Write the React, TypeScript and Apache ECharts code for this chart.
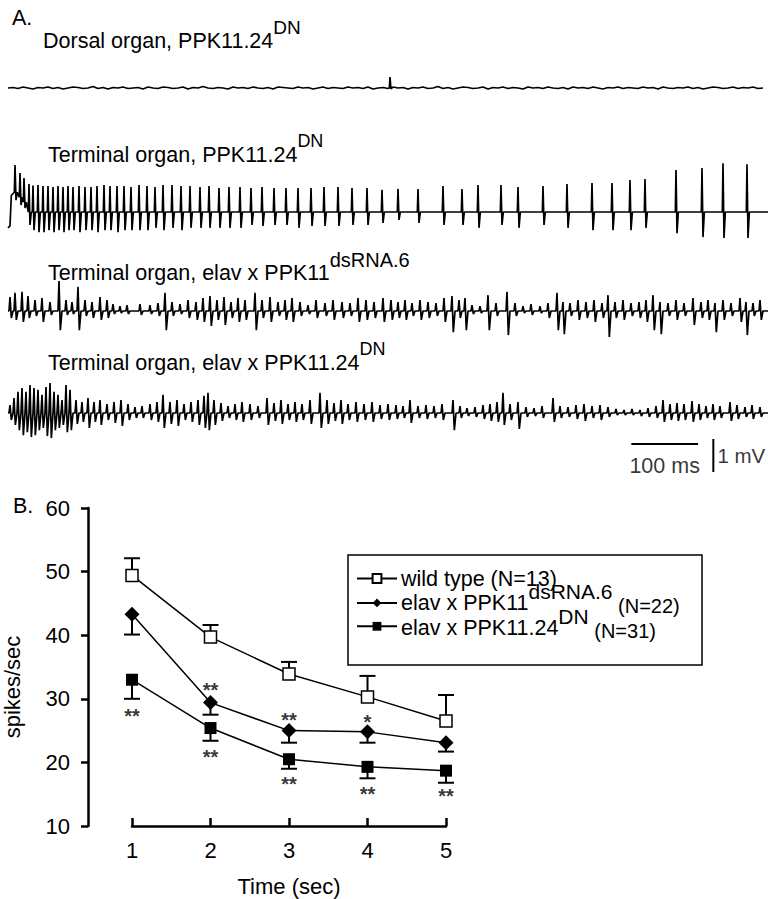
import React, { useEffect, useRef } from 'react';
import * as echarts from 'echarts';

const FONT = '"Liberation Sans", Arial, Helvetica, sans-serif';

// ---------- Panel B data ----------
const timeSec = [1, 2, 3, 4, 5];
const wildMean = [49.4, 39.7, 33.9, 30.3, 26.5];
const wildErr = [2.7, 1.9, 1.9, 3.3, 4.1];
const dsMean = [43.3, 29.4, 25.0, 24.8, 23.1];
const dsErr = [3.2, 1.9, 1.9, 1.7, 1.4];
const dnMean = [33.0, 25.4, 20.5, 19.3, 18.7];
const dnErr = [3.0, 2.0, 1.5, 1.8, 1.9];
const starX = [1, 2, 2, 3, 3, 4, 4, 5];
const starY = [28.0, 32.0, 21.5, 27.3, 17.2, 27.0, 15.7, 15.3];
const starText = ['**', '**', '**', '**', '**', '*', '**', '**'];
const yTicks = { min: 10, max: 60, step: 10 };
const legendTexts = [
  '{m|wild type (N=13)}{s| }',
  '{m|elav x PPK11}{s|dsRNA.6}{n| (N=22)}',
  '{m|elav x PPK11.24}{s|DN}{n| (N=31)}',
];

// ---------- Panel A data ----------
// dorsal organ: voltage samples (mV) every 7.5 ms, plus one brief spike [ms, mV]
const dorsalStepMs = 7.5;
const dorsalMv = [
  0.00,0.015,-0.015,0.03,0.00,-0.03,0.015,0.00,0.03,-0.015,0.015,-0.03,0.00,0.03,0.015,-0.015,0.00,0.045,-0.015,0.015,
  -0.03,0.015,0.00,0.03,-0.015,0.00,0.015,-0.03,0.03,0.00,-0.015,0.03,0.015,-0.015,0.00,0.03,-0.03,0.015,0.00,0.045,
  0.00,-0.015,0.015,0.00,-0.03,0.03,0.00,0.015,-0.015,0.03,0.00,-0.015,0.015,-0.03,0.03,0.015,0.00,-0.015,0.03,0.00,
  0.015,-0.03,0.00,0.03,-0.015,0.015,0.00,-0.015,0.03,0.00,0.015,-0.015,0.03,-0.03,0.00,0.015,-0.015,0.03,0.00,0.015,
  -0.03,0.015,0.00,0.03,-0.015,0.00,0.045,-0.015,0.015,-0.03,0.00,0.03,0.015,-0.015,0.00,0.03,-0.03,0.015,0.00,0.03,
  -0.015,0.015,0.00,-0.03,0.03,0.00,0.015,-0.015,0.03,0.00,-0.015,0.015,-0.03,0.03,0.00,0.015,-0.015,0.03,0.00,-0.03,
  0.015,0.00,0.03,-0.015,0.015,0.00,-0.015,0.03,0.00,0.015,-0.03,0.03,0.00,-0.015,0.015,0.00,0.03,-0.015,0.015,-0.03,
  0.00,0.03,0.015,-0.015,0.00,0.03,-0.015,0.015,0.00,0.03,-0.015,0.00
];
const dorsalSpike = [[572, 0.0], [573, 0.33], [574.5, -0.03]];
// terminal organ traces: events [time ms, peak mV, trough mV, base mV]
const toPpkStart = [[0,-0.48],[3,-0.42],[5,0.5]];
const toPpkEvents = [
  [10.5,1.42,0.36,0.6],[18,1.18,0.21,0.45],[24,1.03,0.12,0.3],[31.5,0.85,-0.39],[37.5,0.8,-0.55],
  [45,0.82,-0.61],[52.5,0.79,-0.61],[60,0.79,-0.55],[67.5,0.76,-0.61],[75,0.79,-0.55],[82.5,0.76,-0.61],
  [90,0.79,-0.55],[97.5,0.76,-0.55],[106.5,0.79,-0.61],[115.5,0.76,-0.55],[124.5,0.76,-0.55],
  [133.5,0.79,-0.61],[144,0.82,-0.55],[153,0.79,-0.55],[163.5,0.79,-0.61],[174,0.79,-0.55],
  [184.5,0.76,-0.55],[196.5,0.82,-0.55],[208.5,0.79,-0.55],[220.5,0.76,-0.48],[232.5,0.82,-0.55],
  [246,0.82,-0.48],[259.5,0.79,-0.55],[273,0.79,-0.48],[288,0.76,-0.48],[301.5,0.79,-0.48],
  [316.5,0.73,-0.48],[331.5,0.76,-0.48],[348,0.76,-0.48],[364.5,0.73,-0.39],[381,0.76,-0.42],
  [399,0.73,-0.39],[417,0.73,-0.39],[435,0.73,-0.48],[454.5,0.73,-0.42],[474,0.76,-0.42],
  [495,0.76,-0.42],[516,0.73,-0.39],[538.5,0.73,-0.39],[561,0.67,-0.33],[585,0.7,-0.24],
  [615,0.7,-0.33],[652.5,0.79,-0.39],[681,0.7,-0.39],[705,0.82,-0.48],[739.5,0.82,-0.39],
  [765,0.76,-0.48],[802.5,0.79,-0.39],[838.5,0.85,-0.48],[876,0.88,-0.55],[906,0.88,-0.55],
  [933,0.97,-0.55],[955.5,1.0,-0.48],[1002,1.27,-0.64],[1041,1.33,-0.76],[1072.5,1.48,-0.79],
  [1108.5,1.45,-0.79]
];
const toDsEvents = [
  [3,0.42,-0.21],[10.5,0.55,-0.27],[21,0.58,-0.33],[30,0.45,-0.21],[40.5,0.33,-0.15],[51,0.39,-0.33],
  [63,0.27,-0.12],[76.5,0.91,-0.58],[87,0.33,-0.12],[96,0.27,-0.09],[105,0.73,-0.58],[115.5,0.33,-0.15],
  [126,0.27,-0.21],[138,0.42,-0.27],[148.5,0.33,-0.21],[157.5,0.21,-0.09],[168,0.15,-0.06],
  [178.5,0.18,-0.09],[198,0.21,-0.12],[213,0.18,-0.09],[225,0.24,-0.15],[235.5,0.55,-0.58],
  [246,0.27,-0.15],[258,0.21,-0.09],[270,0.33,-0.21],[282,0.27,-0.27],[292.5,0.39,-0.33],
  [303,0.45,-0.45],[313.5,0.33,-0.27],[324,0.42,-0.42],[334.5,0.27,-0.21],[345,0.39,-0.33],
  [355.5,0.33,-0.27],[370.5,0.55,-0.58],[381,0.33,-0.21],[393,0.42,-0.33],[405,0.27,-0.15],
  [415.5,0.33,-0.27],[426,0.39,-0.33],[438,0.27,-0.15],[450,0.18,-0.09],[462,0.33,-0.21],
  [475.5,0.24,-0.15],[487.5,0.33,-0.27],[501,0.27,-0.21],[513,0.24,-0.15],[525,0.39,-0.33],
  [537,0.33,-0.27],[549,0.27,-0.21],[562.5,0.39,-0.33],[574.5,0.33,-0.27],[585,0.27,-0.21],
  [595.5,0.33,-0.27],[606,0.24,-0.15],[618,0.33,-0.27],[630,0.27,-0.21],[642,0.24,-0.15],
  [654,0.39,-0.33],[666,0.45,-0.64],[676.5,0.33,-0.21],[685.5,0.39,-0.58],[696,0.18,-0.09],
  [708,0.15,-0.06],[720,0.48,-0.58],[732,0.24,-0.15],[748.5,0.58,-0.73],[760.5,0.24,-0.15],
  [772.5,0.15,-0.06],[784.5,0.21,-0.12],[798,0.15,-0.06],[810,0.24,-0.21],[823.5,0.55,-0.58],
  [832.5,0.27,-0.7],[843,0.24,-0.15],[855,0.33,-0.27],[867,0.27,-0.21],[879,0.33,-0.33],
  [891,0.24,-0.21],[900,0.48,-0.79],[910.5,0.27,-0.21],[922.5,0.33,-0.27],[934.5,0.24,-0.15],
  [946.5,0.27,-0.21],[957,0.33,-0.33],[967.5,0.48,-0.58],[978,0.27,-0.7],[990,0.24,-0.15],
  [1002,0.33,-0.27],[1014,0.24,-0.15],[1027.5,0.39,-0.42],[1039.5,0.27,-0.21],[1050,0.33,-0.27],
  [1060.5,0.24,-0.64],[1072.5,0.33,-0.27],[1084.5,0.24,-0.15],[1098,0.39,-0.33],[1107,0.27,-0.73],
  [1117.5,0.24,-0.15],[1128,0.33,-0.27]
];
const toDnEvents = [
  [3,0.24,-0.21],[9,0.45,-0.36],[15,0.64,-0.52],[21,0.76,-0.67],[27,0.64,-0.58],[33,0.85,-0.73],
  [39,0.76,-0.67],[45,0.7,-0.52],[51,0.55,-0.45],[57,0.79,-0.7],[63,0.91,-0.76],[69,0.64,-0.52],
  [75,0.55,-0.45],[81,0.39,-0.36],[87,0.85,-0.58],[93,0.7,-0.52],[102,0.39,-0.33],[111,0.33,-0.27],
  [120,0.45,-0.45],[129,0.33,-0.27],[138,0.39,-0.36],[148.5,0.27,-0.21],[159,0.33,-0.3],
  [169.5,0.39,-0.39],[180,0.27,-0.21],[190.5,0.18,-0.15],[201,0.21,-0.15],[213,0.27,-0.21],
  [223.5,0.33,-0.27],[232.5,0.55,-0.45],[243,0.33,-0.33],[253.5,0.39,-0.39],[264,0.27,-0.21],
  [274.5,0.33,-0.27],[285,0.39,-0.36],[294,0.52,-0.45],[300,0.61,-0.52],[309,0.39,-0.36],
  [319.5,0.3,-0.24],[330,0.21,-0.15],[340.5,0.27,-0.21],[351,0.33,-0.27],[363,0.27,-0.21],
  [375,0.21,-0.15],[388.5,0.45,-0.36],[399,0.3,-0.24],[409.5,0.39,-0.33],[420,0.27,-0.21],
  [430.5,0.33,-0.27],[441,0.27,-0.21],[453,0.39,-0.33],[468,0.61,-0.45],[478.5,0.39,-0.33],
  [489,0.3,-0.24],[499.5,0.39,-0.33],[510,0.27,-0.21],[522,0.33,-0.27],[534,0.27,-0.21],
  [546,0.33,-0.27],[558,0.24,-0.18],[570,0.27,-0.21],[582,0.24,-0.18],[592.5,0.21,-0.15],
  [603,0.39,-0.3],[615,0.21,-0.15],[627,0.24,-0.18],[639,0.21,-0.15],[651,0.27,-0.21],
  [667.5,0.39,-0.52],[678,0.21,-0.15],[688.5,0.15,-0.09],[700.5,0.18,-0.12],[712.5,0.24,-0.18],
  [723,0.27,-0.24],[733.5,0.33,-0.27],[742.5,0.61,-0.36],[753,0.27,-0.21],[765,0.33,-0.48],
  [777,0.18,-0.12],[789,0.15,-0.09],[801,0.21,-0.15],[817.5,0.45,-0.27],[828,0.21,-0.15],
  [840,0.18,-0.12],[852,0.24,-0.18],[864,0.27,-0.24],[876,0.21,-0.15],[888,0.24,-0.21],
  [900,0.18,-0.12],[912,0.12,-0.06],[924,0.09,-0.06],[936,0.12,-0.06],[948,0.09,-0.09],
  [960,0.15,-0.12],[972,0.21,-0.15],[982.5,0.39,-0.27],[993,0.27,-0.21],[1003.5,0.3,-0.24],
  [1014,0.27,-0.21],[1026,0.36,-0.27],[1036.5,0.27,-0.21],[1047,0.21,-0.15],[1057.5,0.27,-0.21],
  [1068,0.21,-0.15],[1083,0.33,-0.24],[1093.5,0.24,-0.18],[1105.5,0.18,-0.12],[1116,0.24,-0.18],
  [1128,0.18,-0.12]
];
const traceSpanMs = [0, 1140];
const scaleBarMs = [935, 1035];
const scaleBarLevelMv = 0.85;
const scaleBarVertMs = 1058;
const scaleBarMv = [0, 1];

// timing of the phases of one recorded deflection relative to its peak (ms)
const needleShape = [-1, 0, 1.5, 3.5];
const waveShape = [-1.5, 0, 2, 4.5];

function buildTrace(start: number[][], events: number[][], shape: number[]) {
  const pts: number[][] = start.length ? start.map((p) => [p[0], p[1]]) : [[traceSpanMs[0], 0]];
  for (const ev of events) {
    const [t, up, down] = ev;
    const base = ev.length > 3 ? ev[3] : 0;
    pts.push([t + shape[0], base], [t + shape[1], up], [t + shape[2], down], [t + shape[3], base]);
  }
  pts.push([traceSpanMs[1], 0]);
  return pts;
}

function buildDorsal() {
  const pts = dorsalMv.map((v, i) => [i * dorsalStepMs, v]);
  for (const s of dorsalSpike) pts.push([s[0], s[1]]);
  pts.sort((a, b) => a[0] - b[0]);
  return pts;
}

const labelRich = (sup: number) => ({
  m: { fontSize: 21.5, lineHeight: 46, verticalAlign: 'middle', fontFamily: FONT, fill: '#000', color: '#000' },
  s: { fontSize: sup, verticalAlign: 'top', fontFamily: FONT, fill: '#000', color: '#000' },
});
const legendRich = {
  m: { fontSize: 21.5, lineHeight: 44, verticalAlign: 'middle', fontFamily: FONT, fill: '#000' },
  s: { fontSize: 21, verticalAlign: 'top', fontFamily: FONT, fill: '#000' },
  n: { fontSize: 20, verticalAlign: 'middle', padding: [6, 0, 0, 0], fontFamily: FONT, fill: '#000' },
};

export default function App() {
  const ref = useRef<HTMLDivElement>(null);
  useEffect(() => {
    document.body.style.margin = '0';
    const chart = echarts.init(ref.current!, null, { renderer: 'svg' });
    const black = '#000';
    const traceGrid = (top: number, height: number) => ({ left: 8, width: 760, top, height });
    const hiddenX = (gi: number) => ({ gridIndex: gi, type: 'value', min: traceSpanMs[0], max: traceSpanMs[1], show: false });
    const hiddenY = (gi: number, lo: number, hi: number) => ({ gridIndex: gi, type: 'value', min: lo, max: hi, show: false });
    const traceSeries = (gi: number, data: number[][]) => ({
      type: 'line', xAxisIndex: gi, yAxisIndex: gi, data, symbol: 'none', silent: true,
      lineStyle: { color: black, width: 1.7 }, z: 3,
    });
    const errSeries = (mean: number[], err: number[], dir: number) => ({
      type: 'custom', xAxisIndex: 0, yAxisIndex: 0, z: 1, silent: true,
      data: timeSec.map((t, i) => [t, mean[i], dir * err[i]]),
      renderItem: (_p: any, api: any) => {
        const x = api.value(0), y = api.value(1), e = api.value(2);
        const a = api.coord([x, y]);
        const b = api.coord([x, y + e]);
        const st = { stroke: black, lineWidth: 2 };
        return {
          type: 'group', children: [
            { type: 'line', shape: { x1: a[0], y1: a[1], x2: b[0], y2: b[1] }, style: st },
            { type: 'line', shape: { x1: b[0] - 8, y1: b[1], x2: b[0] + 8, y2: b[1] }, style: st },
          ],
        };
      },
    });
    const legendRowCenters = [578.5, 603, 627.5];
    const option: any = {
      animation: false,
      backgroundColor: '#fff',
      textStyle: { fontFamily: FONT, color: black },
      grid: [
        { left: 130, top: 508, width: 316, height: 318 },
        traceGrid(55, 66),
        traceGrid(162.5, 99),
        traceGrid(278, 66),
        traceGrid(380, 66),
        traceGrid(439, 33),
      ],
      xAxis: [
        {
          gridIndex: 0, type: 'value', min: 1, max: 5, interval: 1,
          axisLine: { onZero: false, lineStyle: { color: black, width: 2.5 } },
          axisTick: { inside: true, length: 8, lineStyle: { color: black, width: 2.5 } },
          axisLabel: { fontSize: 22, color: black, margin: 13, fontFamily: FONT },
          splitLine: { show: false },
          name: 'Time (sec)', nameLocation: 'middle', nameGap: 49,
          nameTextStyle: { fontSize: 22, color: black, fontFamily: FONT },
        },
        hiddenX(1), hiddenX(2), hiddenX(3), hiddenX(4), hiddenX(5),
      ],
      yAxis: [
        {
          gridIndex: 0, type: 'value', min: yTicks.min, max: yTicks.max, interval: yTicks.step, offset: 44,
          axisLine: { show: true, lineStyle: { color: black, width: 2.5 } },
          axisTick: { show: true, length: 7, lineStyle: { color: black, width: 2.5 } },
          axisLabel: { fontSize: 22, color: black, margin: 18, fontFamily: FONT },
          splitLine: { show: false },
          name: 'spikes/sec', nameLocation: 'middle', nameGap: 65, nameRotate: 90,
          nameTextStyle: { fontSize: 22, color: black, fontFamily: FONT, padding: [0, 40, 0, 0] },
        },
        hiddenY(1, -1, 1), hiddenY(2, -1.5, 1.5), hiddenY(3, -1, 1), hiddenY(4, -1, 1), hiddenY(5, 0, 1),
      ],
      // legend keys (line + marker) drawn by ECharts from the series styles; their texts are rich graphic texts
      legend: {
        left: 356, top: legendRowCenters[0] - 5.5, orient: 'vertical', itemWidth: 40, itemHeight: 11,
        itemGap: legendRowCenters[1] - legendRowCenters[0] - 11, padding: 0,
        selectedMode: false, data: ['wild', 'ds', 'dn'], formatter: () => '',
        textStyle: { fontSize: 1 },
      },
      graphic: [
        { type: 'rect', shape: { x: 348, y: 555, width: 354, height: 110 }, style: { fill: 'none', stroke: black, lineWidth: 1.5 }, z: 10 },
        { type: 'text', left: 12, top: 7, style: { text: 'A.', fontSize: 21.5, fontFamily: FONT, fill: black } },
        { type: 'text', left: 13, top: 495, style: { text: 'B.', fontSize: 21.5, fontFamily: FONT, fill: black } },
        { type: 'text', left: 43, top: 17.5, style: { text: '{m|Dorsal organ, PPK11.24}{s|DN}', rich: labelRich(19), fill: black } },
        { type: 'text', left: 48, top: 131.5, style: { text: '{m|Terminal organ, PPK11.24}{s|DN}', rich: labelRich(18), fill: black } },
        { type: 'text', left: 48, top: 249.5, style: { text: '{m|Terminal organ, elav x PPK11}{s|dsRNA.6}', rich: labelRich(20), fill: black } },
        { type: 'text', left: 48, top: 339.5, style: { text: '{m|Terminal organ, elav x PPK11.24}{s|DN}', rich: labelRich(18), fill: black } },
        ...legendTexts.map((txt, i) => ({
          type: 'text', left: 401, top: legendRowCenters[i] - 22, style: { text: txt, rich: legendRich, fill: black },
        })),
      ],
      series: [
        errSeries(wildMean, wildErr, 1),
        errSeries(dsMean, dsErr, -1),
        errSeries(dnMean, dnErr, -1),
        {
          name: 'wild', type: 'line', xAxisIndex: 0, yAxisIndex: 0, z: 3,
          data: timeSec.map((t, i) => [t, wildMean[i]]),
          symbol: 'rect', symbolSize: 12,
          itemStyle: { color: '#fff', borderColor: black, borderWidth: 1.5 },
          lineStyle: { color: black, width: 1.5 },
        },
        {
          name: 'ds', type: 'line', xAxisIndex: 0, yAxisIndex: 0, z: 3,
          data: timeSec.map((t, i) => [t, dsMean[i]]),
          symbol: 'diamond', symbolSize: 15,
          itemStyle: { color: black, borderColor: black, borderWidth: 0 },
          lineStyle: { color: black, width: 1.5 },
        },
        {
          name: 'dn', type: 'line', xAxisIndex: 0, yAxisIndex: 0, z: 3,
          data: timeSec.map((t, i) => [t, dnMean[i]]),
          symbol: 'rect', symbolSize: 12,
          itemStyle: { color: black, borderColor: black, borderWidth: 0 },
          lineStyle: { color: black, width: 1.5 },
        },
        {
          type: 'scatter', xAxisIndex: 0, yAxisIndex: 0, z: 4, silent: true,
          symbolSize: 0.1, itemStyle: { color: 'rgba(0,0,0,0)' },
          data: starX.map((x, i) => ({ value: [x, starY[i]], name: starText[i] })),
          label: {
            show: true, position: 'inside', formatter: (p: any) => p.name, fontSize: 20, fontWeight: 'bold',
            color: black, textBorderWidth: 0, fontFamily: FONT, offset: [0, 4],
          },
        },
        traceSeries(1, buildDorsal()),
        traceSeries(2, buildTrace(toPpkStart, toPpkEvents, needleShape)),
        traceSeries(3, buildTrace([], toDsEvents, waveShape)),
        traceSeries(4, buildTrace([], toDnEvents, waveShape)),
        {
          type: 'line', xAxisIndex: 5, yAxisIndex: 5, symbol: 'none', silent: true,
          data: scaleBarMs.map((t) => [t, scaleBarLevelMv]), lineStyle: { color: black, width: 2 },
        },
        {
          type: 'line', xAxisIndex: 5, yAxisIndex: 5, symbol: 'none', silent: true,
          data: scaleBarMv.map((v) => [scaleBarVertMs, v]), lineStyle: { color: black, width: 2 },
        },
        {
          type: 'scatter', xAxisIndex: 5, yAxisIndex: 5, silent: true, symbolSize: 0.1,
          itemStyle: { color: 'rgba(0,0,0,0)' },
          data: [
            { value: [(scaleBarMs[0] + scaleBarMs[1]) / 2, scaleBarLevelMv], name: '100 ms', label: { position: 'bottom', distance: 11, fontSize: 21.5 } },
            { value: [scaleBarVertMs, (scaleBarMv[0] + scaleBarMv[1]) / 2], name: '1 mV', label: { position: 'right', distance: 4, fontSize: 20.5 } },
          ],
          label: { show: true, formatter: (p: any) => p.name, color: black, fontFamily: FONT },
        },
      ],
    };
    chart.setOption(option);
    return () => chart.dispose();
  }, []);
  return <div ref={ref} style={{ width: 768, height: 899 }} />;
}
